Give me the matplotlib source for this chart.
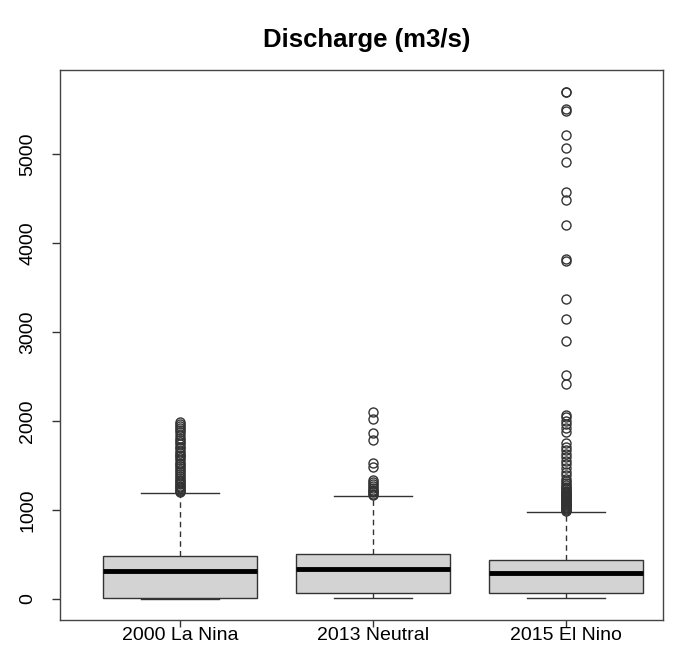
import matplotlib
matplotlib.use("Agg")
import matplotlib.pyplot as plt

plt.rcParams['font.family'] = ['Liberation Sans', 'DejaVu Sans']

# data (m3/s)
groups = ["2000 La Nina", "2013 Neutral", "2015 El Nino"]
whislo = [0, 8, 4]
q1 = [15, 70, 60]
med = [315, 340, 292]
q3 = [482, 505, 440]
whishi = [1190, 1160, 978]

fliers_2000 = [1205, 1215, 1225, 1240, 1255, 1270, 1285, 1300, 1320, 1340, 1360, 1380,
               1400, 1420, 1445, 1470, 1490, 1510, 1530, 1555, 1580, 1600, 1620, 1640,
               1665, 1690, 1710, 1735, 1760, 1790, 1810, 1840, 1870, 1895, 1920, 1945,
               1965, 1985]
fliers_2013 = [1170, 1180, 1195, 1210, 1225, 1245, 1265, 1290, 1310, 1335, 1480, 1530,
               1790, 1860, 2020, 2100]
fliers_2015 = [990, 1000, 1010, 1020, 1030, 1040, 1050, 1060, 1070, 1080, 1090, 1100,
               1110, 1120, 1130, 1140, 1150, 1160, 1170, 1180, 1190, 1200, 1215, 1230,
               1245, 1260, 1280, 1300, 1320, 1350, 1390, 1430, 1470, 1510, 1550, 1590,
               1630, 1670, 1710, 1750, 1880, 1920, 1965, 2000, 2040, 2070,
               2410, 2520, 2900, 3140, 3365, 3800, 3815, 4205, 4485, 4575,
               4905, 5065, 5215, 5480, 5500, 5690, 5700]
fliers = [fliers_2000, fliers_2013, fliers_2015]

stats = []
for i in range(len(groups)):
    stats.append(dict(label=groups[i], whislo=whislo[i], q1=q1[i], med=med[i],
                      q3=q3[i], whishi=whishi[i], fliers=fliers[i]))

fig = plt.figure(figsize=(6.77, 6.51), dpi=100)
ax = fig.add_axes([0.0886, 0.048, 0.8907, 0.8445])

ax.bxp(stats, positions=[1, 2, 3], widths=0.8, patch_artist=True,
       boxprops=dict(facecolor='#d3d3d3', edgecolor='#333333', linewidth=1),
       medianprops=dict(color='black', linewidth=3.5, solid_capstyle='butt'),
       whiskerprops=dict(color='#333333', linewidth=1, linestyle=(0, (4, 3))),
       capprops=dict(color='#333333', linewidth=1),
       flierprops=dict(marker='o', markerfacecolor='none', markeredgecolor='#333333',
                       markersize=6.5, markeredgewidth=1),
       capwidths=0.4)

ax.set_xlim(0.378, 3.503)
ax.set_ylim(-235, 5942)
ax.set_yticks([0, 1000, 2000, 3000, 4000, 5000])
ax.set_yticklabels(['0', '1000', '2000', '3000', '4000', '5000'],
                   rotation=90, va='center', fontsize=14)
ax.set_xticks([1, 2, 3])
ax.set_xticklabels(groups, fontsize=14)
ax.tick_params(axis='y', length=6, width=1, pad=11, color='#333333')
ax.tick_params(axis='x', length=5, width=1, pad=0.5, color='#333333')
for s in ax.spines.values():
    s.set_color('#444444')
    s.set_linewidth(1)

fig.text(0.542, 0.9386, "Discharge (m3/s)", ha='center', va='center',
         fontsize=18.5, fontweight='bold')

fig.savefig("out.png", dpi=100)
